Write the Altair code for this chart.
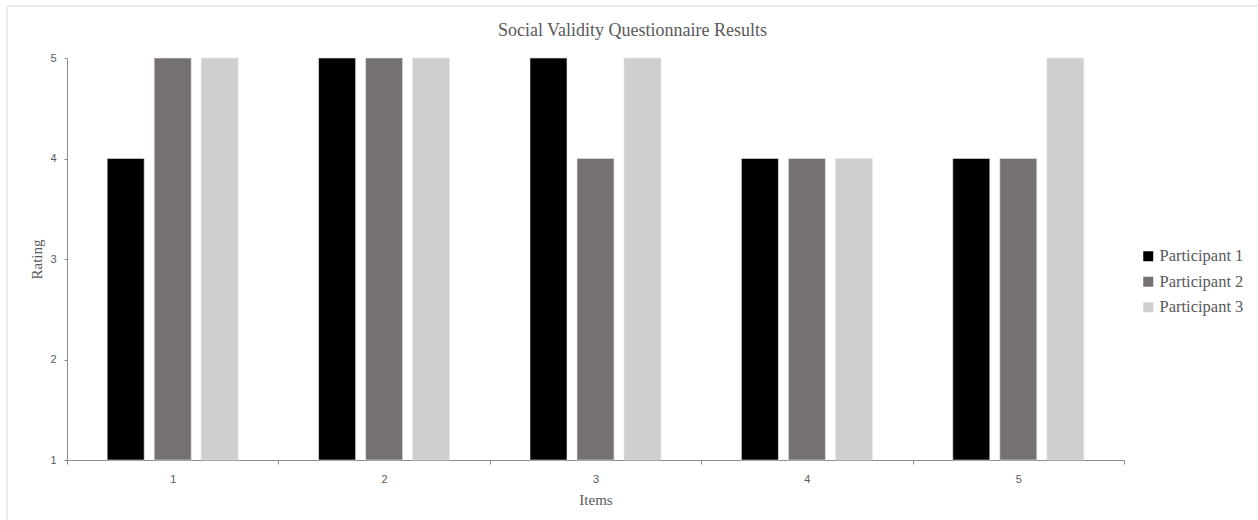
import altair as alt
import pandas as pd

items = ["1", "2", "3", "4", "5"]
participants = ["Participant 1", "Participant 2", "Participant 3"]
p1 = [4, 5, 5, 4, 4]
p2 = [5, 5, 4, 4, 4]
p3 = [5, 5, 5, 4, 5]
colors = ["#000000", "#767171", "#D0CECE"]

rows = []
for series, vals in zip(participants, [p1, p2, p3]):
    for it, v in zip(items, vals):
        rows.append({"Item": it, "Participant": series, "Rating": v})
df = pd.DataFrame(rows)

serif = "Liberation Serif"
sans = "Liberation Sans"
txt = "#595959"

bars = alt.Chart(df).mark_bar(stroke="#e6e6e6", strokeWidth=0.6).encode(
    x=alt.X("Item:N", sort=items,
            scale=alt.Scale(paddingInner=0, paddingOuter=0),
            axis=alt.Axis(title="Items", labelAngle=0, tickBand="extent",
                          tickSize=4, labelPadding=9, titlePadding=8)),
    xOffset=alt.XOffset("Participant:N", sort=participants,
                        scale=alt.Scale(paddingInner=0.213, paddingOuter=0.855)),
    y=alt.Y("Rating:Q", scale=alt.Scale(domain=[1, 5], zero=False, nice=False),
            axis=alt.Axis(title="Rating", values=[1, 2, 3, 4, 5], tickSize=3,
                          labelPadding=8, titlePadding=5, grid=False)),
    y2=alt.datum(1),
    color=alt.Color("Participant:N", sort=participants,
                    scale=alt.Scale(domain=participants, range=colors),
                    legend=alt.Legend(title=None, orient="none", legendX=1073, legendY=190,
                                      symbolType="square", symbolSize=100,
                                      symbolStrokeWidth=0, labelFontSize=16.5,
                                      labelFont=serif, labelColor=txt, rowPadding=8.5,
                                      labelOffset=3)),
)

frame = alt.Chart(pd.DataFrame({"f": [0]})).mark_rect(
    fill=None, stroke="#d9d9d9", strokeWidth=1, clip=False
).encode(
    x=alt.value(-60), x2=alt.value(1200), y=alt.value(-52), y2=alt.value(470)
)

chart = alt.layer(frame, bars).properties(
    width=1057, height=402,
    title=alt.TitleParams("Social Validity Questionnaire Results", fontSize=18, font=serif,
                          color=txt, fontWeight="normal", anchor="middle", dx=37, offset=-34),
    autosize=alt.AutoSizeParams(type="none"),
    padding={"left": 67, "top": 58, "right": 134, "bottom": 60},
).configure_view(stroke=None).configure_axis(
    domainColor="#8c8c8c", tickColor="#8c8c8c", labelFont=sans, labelFontSize=11,
    labelColor=txt, titleFont=serif, titleFontSize=15, titleColor=txt,
    titleFontWeight="normal", grid=False,
)

chart.save("out.html", embed_options={"renderer": "svg", "actions": False})
